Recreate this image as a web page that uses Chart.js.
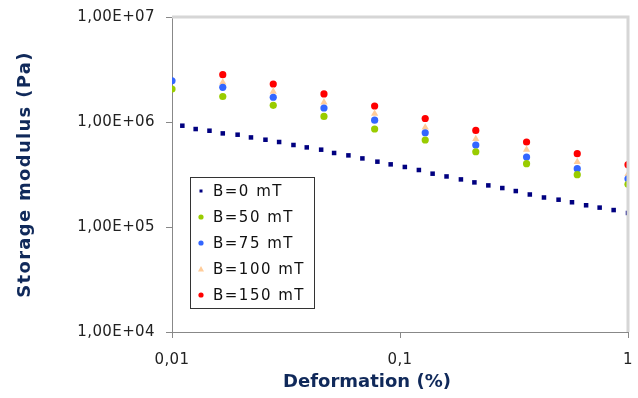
<!DOCTYPE html>
<html>
<head>
<meta charset="utf-8">
<script src="https://cdn.jsdelivr.net/npm/chart.js@4/dist/chart.umd.min.js"></script>
<style>
  body { margin: 0; background: #fff; }
  #box { width: 638px; height: 398px; }
</style>
</head>
<body>
<div id="box"><canvas id="myChart"></canvas></div>
<script>
// B=0 mT : fine strain sweep
const strainB0 = [0.0111, 0.0127, 0.0146, 0.0167, 0.0194, 0.0222, 0.0257, 0.0295, 0.0341, 0.0390, 0.0451,
    0.0514, 0.0594, 0.0684, 0.0796, 0.0910, 0.105, 0.121, 0.139, 0.160, 0.185, 0.212, 0.244,
    0.281, 0.322, 0.371, 0.428, 0.496, 0.568, 0.655, 0.751, 0.865, 1.0];
const modB0 = [922000, 857000, 826000, 779000, 757000, 713000, 678000, 645000, 604000, 573000, 545000,
    507000, 481000, 450000, 419000, 395000, 373000, 349000, 322000, 303000, 284000, 266000, 249000,
    235000, 220000, 204000, 191000, 182000, 172000, 161000, 153000, 145000, 136000];

// magnetic field series
const strain = [0.01, 0.0167, 0.0278, 0.0464, 0.0774, 0.129, 0.215, 0.359, 0.599, 1.0];
const mod50 = [2060000, 1750000, 1440000, 1130000, 858000, 674000, 521000, 401000, 315000, 255000];
const mod75 = [2470000, 2140000, 1720000, 1360000, 1040000, 790000, 604000, 464000, 359000, 288000];
const mod100 = [null, 2380000, 1950000, 1540000, 1200000, 889000, 689000, 545000, 416000, 320000];
const mod150 = [null, 2820000, 2300000, 1850000, 1420000, 1080000, 832000, 645000, 499000, 392000];

const seriesLabels = ['B=0 mT', 'B=50 mT', 'B=75 mT', 'B=100 mT', 'B=150 mT'];
const xTicks = [0.01, 0.1, 1];
const yTicks = [1e4, 1e5, 1e6, 1e7];

function pts(xs, ys) {
    let out = [];
    for (let i = 0; i < xs.length; i++) {
        if (ys[i] !== null) out.push({ x: xs[i], y: ys[i] });
    }
    return out;
}

const navy = '#10295a';
const fontFam = '"DejaVu Sans", Verdana, sans-serif';

// titles get their own letter spacing (and a small shift)
function wrapTitle(s, sp, dx) {
    if (s._wrapped) return;
    const orig = s.drawTitle;
    s.drawTitle = function () {
        const c = this.ctx;
        const old = c.letterSpacing;
        c.save();
        c.translate(dx, 0);
        c.letterSpacing = sp;
        orig.apply(this, arguments);
        c.restore();
        c.letterSpacing = old;
    };
    s._wrapped = true;
}

// letter spacing + top/right frame + boxed legend
const extras = {
    id: 'extras',
    beforeDraw(chart) {
        chart.ctx.letterSpacing = '0.4px';
    },
    afterDraw(chart) {
        const ctx = chart.ctx;
        const a = chart.chartArea;
        ctx.save();
        ctx.strokeStyle = '#d6d6d6';
        ctx.lineWidth = 3;
        ctx.beginPath();
        ctx.moveTo(a.left, a.top);
        ctx.lineTo(a.right, a.top);
        ctx.lineTo(a.right, a.bottom);
        ctx.stroke();

        // legend
        const lx = 190, ly = 177, lw = 124, lh = 131;
        ctx.fillStyle = '#fff';
        ctx.fillRect(lx, ly, lw, lh);
        ctx.strokeStyle = '#333';
        ctx.lineWidth = 1;
        ctx.strokeRect(lx + 0.5, ly + 0.5, lw, lh);
        ctx.font = '15px ' + fontFam;
        ctx.letterSpacing = '1.5px';
        ctx.textBaseline = 'middle';
        chart.data.datasets.forEach(function (ds, i) {
            const cy = ly + 14 + i * 26;
            ctx.fillStyle = ds.backgroundColor;
            ctx.beginPath();
            if (ds.pointStyle === 'rect') {
                ctx.rect(199.5, cy - 1.5, 3, 3);
            } else if (ds.pointStyle === 'triangle') {
                ctx.moveTo(201, cy - 3);
                ctx.lineTo(204, cy + 2.5);
                ctx.lineTo(198, cy + 2.5);
                ctx.closePath();
            } else {
                ctx.arc(201, cy, 2.6, 0, Math.PI * 2);
            }
            ctx.fill();
            ctx.fillStyle = '#111';
            ctx.fillText(ds.label, 213, cy + 1);
        });
        ctx.restore();
    }
};

const ctx = document.getElementById('myChart').getContext('2d');
const chart = new Chart(ctx, {
    type: 'scatter',
    data: {
        datasets: [
            { label: seriesLabels[0], data: pts(strainB0, modB0), pointStyle: 'rect', pointRadius: 3.2,
              backgroundColor: '#000080', borderWidth: 0 },
            { label: seriesLabels[1], data: pts(strain, mod50), pointStyle: 'circle', pointRadius: 3.6,
              backgroundColor: '#99cc00', borderWidth: 0 },
            { label: seriesLabels[2], data: pts(strain, mod75), pointStyle: 'circle', pointRadius: 3.6,
              backgroundColor: '#3366ff', borderWidth: 0 },
            { label: seriesLabels[3], data: pts(strain, mod100), pointStyle: 'triangle', pointRadius: 4.2,
              backgroundColor: '#ffcc99', borderWidth: 0 },
            { label: seriesLabels[4], data: pts(strain, mod150), pointStyle: 'circle', pointRadius: 3.6,
              backgroundColor: '#ff0000', borderWidth: 0 }
        ]
    },
    options: {
        responsive: true,
        maintainAspectRatio: false,
        animation: false,
        layout: { padding: { top: 17, right: 10, left: 0, bottom: 0 } },
        plugins: {
            legend: { display: false },
            tooltip: { enabled: false }
        },
        scales: {
            x: {
                type: 'logarithmic',
                min: 0.01,
                max: 1,
                afterBuildTicks: function (s) { s.ticks = xTicks.map(v => ({ value: v })); },
                afterFit: function (s) {
                    s.height = 66;
                    s.paddingLeft = 0;
                    s.paddingRight = 0;
                    wrapTitle(s, '0px', -33);
                },
                ticks: {
                    autoSkip: false,
                    maxRotation: 0,
                    padding: 13,
                    color: '#222',
                    font: { family: fontFam, size: 15 },
                    callback: function (v) { return String(v).replace('.', ','); }
                },
                grid: { drawOnChartArea: false, tickLength: 6, color: '#888' },
                border: { color: '#888', width: 1 },
                title: {
                    display: true,
                    text: 'Deformation (%)',
                    color: navy,
                    font: { family: fontFam, size: 18, weight: 'bold' },
                    padding: { top: 0, bottom: 5 }
                }
            },
            y: {
                type: 'logarithmic',
                min: 1e4,
                max: 1e7,
                afterBuildTicks: function (s) { s.ticks = yTicks.map(v => ({ value: v })); },
                afterFit: function (s) {
                    s.width = 172;
                    s.paddingTop = 0;
                    s.paddingBottom = 0;
                    wrapTitle(s, '1.3px', 0);
                },
                ticks: {
                    autoSkip: false,
                    padding: 11,
                    color: '#222',
                    font: { family: fontFam, size: 15 },
                    callback: function (v) {
                        const e = Math.round(Math.log10(v));
                        return '1,00E+' + (e < 10 ? '0' + e : e);
                    }
                },
                grid: { drawOnChartArea: false, tickLength: 6, color: '#888' },
                border: { color: '#888', width: 1 },
                title: {
                    display: true,
                    text: 'Storage modulus (Pa)',
                    color: navy,
                    font: { family: fontFam, size: 18, weight: 'bold' },
                    padding: { top: 15, bottom: 0 }
                }
            }
        }
    },
    plugins: [extras]
});
</script>
</body>
</html>
